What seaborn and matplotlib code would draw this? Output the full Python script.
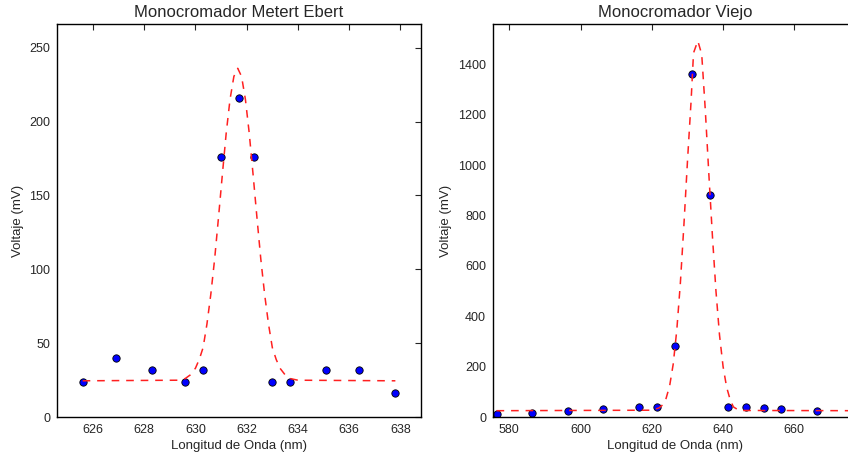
import numpy as np
import pandas as pd
import matplotlib
matplotlib.use("Agg")
import matplotlib.pyplot as plt
import seaborn as sns

# Monocromador Metert Ebert: measured points
ebert_wl = [625.6, 626.9, 628.3, 629.6, 630.3, 631.0, 631.7, 632.3, 633.0, 633.7, 635.1, 636.4, 637.8]
ebert_mv = [24, 40, 32, 24, 32, 176, 216, 176, 24, 24, 32, 32, 16]

# Metert Ebert: gaussian fit
ebert_fit_wl = [625.6, 629.3, 629.6, 629.8, 630.0, 630.15, 630.3, 630.45, 630.6, 630.75,
                630.9, 631.05, 631.2, 631.35, 631.5, 631.65, 631.8, 631.95, 632.1, 632.25,
                632.4, 632.55, 632.7, 632.85, 633.0, 633.15, 633.3, 633.5, 633.7, 634.0, 637.8]
ebert_fit_mv = [24.5, 24.9, 26, 28.5, 33, 39, 47, 63, 83, 107,
                135, 164, 192, 215, 230.5, 236, 230.5, 215, 192, 164,
                135, 107, 83, 63, 47, 39, 33, 28.5, 26, 24.9, 24.5]

# Monocromador Viejo: measured points
viejo_wl = [576.4, 586.4, 596.4, 606.4, 616.4, 621.4, 626.4, 631.4, 636.4,
            641.4, 646.4, 651.4, 656.4, 666.4]
viejo_mv = [12, 17, 23, 32, 40, 41, 283, 1360, 880, 40, 40, 36, 33, 25]

# Viejo: gaussian fit
viejo_fit_wl = [576.4, 620, 622, 623.2, 624, 625, 626, 627, 628, 629, 630, 631, 631.7,
                632.9, 634.0, 635, 636, 637, 638, 639, 640, 641, 642, 642.9, 644.5, 678]
viejo_fit_mv = [25, 27, 36, 50, 74, 124, 210, 345, 530, 762, 1015, 1250, 1445,
                1493, 1440, 1220, 965, 720, 500, 325, 200, 118, 68, 40, 26, 25]

sns.set_style("white")
plt.rcParams["font.family"] = ["Liberation Sans", "DejaVu Sans"]

fig, axes = plt.subplots(1, 2, figsize=(8.48, 4.55), dpi=100)
axes[0].set_position([57 / 848, 38 / 455, 364 / 848, 393 / 455])
axes[1].set_position([493 / 848, 38 / 455, 364 / 848, 393 / 455])

panels = [
    (axes[0], ebert_wl, ebert_mv, ebert_fit_wl, ebert_fit_mv, "Monocromador Metert Ebert",
     (624.6, 638.8), (0, 266)),
    (axes[1], viejo_wl, viejo_mv, viejo_fit_wl, viejo_fit_mv, "Monocromador Viejo",
     (575.4, 677.6), (0, 1560)),
]

for ax, wl, mv, fwl, fmv, title, xlim, ylim in panels:
    fit_df = pd.DataFrame({"wl": fwl, "mv": fmv})
    pts_df = pd.DataFrame({"wl": wl, "mv": mv})
    sns.lineplot(data=fit_df, x="wl", y="mv", ax=ax, color="#ff2020", lw=1.1,
                 dashes=False, sort=False, zorder=3)
    # dashed fit line, a bit more open than the default pattern
    ax.lines[-1].set_dashes((5, 4.5))
    sns.scatterplot(data=pts_df, x="wl", y="mv", ax=ax, color="blue",
                    edgecolor="black", linewidth=0.6, s=28, zorder=2)
    ax.set_xlim(*xlim)
    ax.set_ylim(*ylim)
    ax.set_title(title, fontsize=12, pad=5)
    ax.set_xlabel("Longitud de Onda (nm)", fontsize=9.5, labelpad=3)
    ax.set_ylabel("Voltaje (mV)", fontsize=9.5)
    ax.tick_params(direction="in", top=True, right=True, length=4, width=0.8,
                   labelsize=9, pad=5)
    for sp in ax.spines.values():
        sp.set_color("black")
        sp.set_linewidth(1)

axes[0].set_xticks([626, 628, 630, 632, 634, 636, 638])
axes[0].set_yticks([0, 50, 100, 150, 200, 250])
axes[1].set_xticks([580, 600, 620, 640, 660])
axes[1].set_yticks([0, 200, 400, 600, 800, 1000, 1200, 1400])

fig.savefig("out.png", dpi=100)
